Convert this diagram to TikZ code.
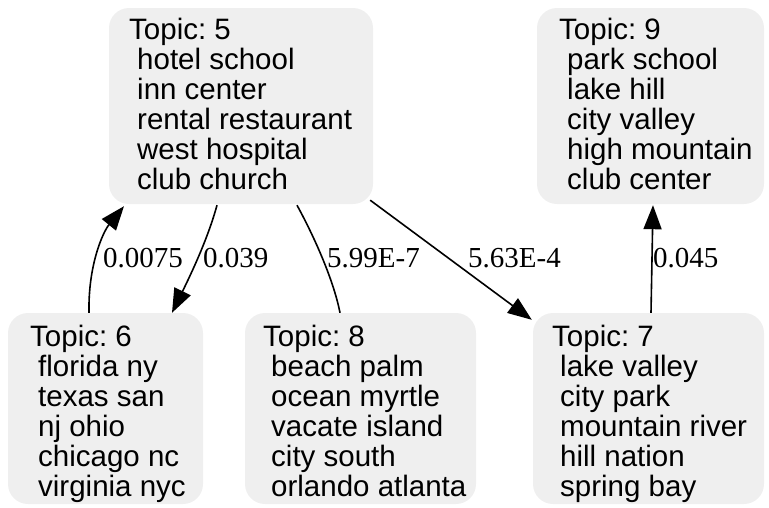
\documentclass[tikz,border=0pt]{standalone}
\usepackage{fontspec}
\setmainfont{Liberation Serif}
\newfontfamily\boxfont{Liberation Sans}
\usetikzlibrary{arrows.meta,calc}
\definecolor{boxgray}{RGB}{239,239,239}
\tikzset{
  topicbox/.style={draw=none, fill=boxgray, rounded corners=20pt, rectangle, inner sep=0pt},
  topictext/.style={anchor=north west, inner sep=0pt, align=left, font=\boxfont\fontsize{29.5}{30}\selectfont\frenchspacing},
  elabel/.style={anchor=west, inner sep=0pt, font=\fontsize{29}{30}\selectfont},
  conn/.style={line width=1.6pt, black},
  arr/.style={conn, -{Triangle[length=24pt,width=18pt]}}
}
\newcommand{\ind}{\hspace*{8pt}}
\begin{document}
\begin{tikzpicture}[x=1pt,y=-1pt]
\useasboundingbox (0,0) rectangle (769,507);
% boxes
\node[topicbox, minimum width=264pt, minimum height=196pt] (t5) at (241,106) {};
\node[topicbox, minimum width=227pt, minimum height=196pt] (t9) at (650.5,106) {};
\node[topicbox, minimum width=195pt, minimum height=191pt] (t6) at (105.5,408.5) {};
\node[topicbox, minimum width=231pt, minimum height=191pt] (t8) at (360.5,408.5) {};
\node[topicbox, minimum width=231pt, minimum height=191pt] (t7) at (648.5,408.5) {};
% texts
\node[topictext] (x5) at (129,18) {Topic: 5\\\ind hotel school\\\ind inn center\\\ind rental restaurant\\\ind west hospital\\\ind club church};
\node[topictext] (x9) at (559,18) {Topic: 9\\\ind park school\\\ind lake hill\\\ind city valley\\\ind high mountain\\\ind club center};
\node[topictext] (x6) at (30,325) {Topic: 6\\\ind florida ny\\\ind texas san\\\ind nj ohio\\\ind chicago nc\\\ind virginia nyc};
\node[topictext] (x8) at (263,325) {Topic: 8\\\ind beach palm\\\ind ocean myrtle\\\ind vacate island\\\ind city south\\\ind orlando atlanta};
\node[topictext] (x7) at (552,325) {Topic: 7\\\ind lake valley\\\ind city park\\\ind mountain river\\\ind hill nation\\\ind spring bay};
% connectors
\draw[arr] ($(t6.north)+(-16.5,0)$) .. controls (88,265) and (103,232) .. ($(t5.south)+(-117,2)$);
\draw[arr] ($(t5.south)+(-24,1)$) .. controls (208,238) and (192,272) .. ($(t6.north)+(66.5,0)$);
\draw[conn] ($(t5.south)+(56,1)$) .. controls (316,240) and (334,282) .. ($(t8.north)+(-20.5,0)$);
\draw[arr] ($(t5.south east)+(-3,-4)$) -- ($(t7.north west)+(-1,7)$);
\draw[arr] ($(t7.north)+(2.5,0)$) -- ($(t9.south)+(2.5,1)$);
% labels
\node[elabel] (l1) at (103,258) {0.0075};
\node[elabel] (l2) at (203,258) {0.039};
\node[elabel] (l3) at (327,258) {5.99E-7};
\node[elabel] (l4) at (468,258) {5.63E-4};
\node[elabel] (l5) at (653,258) {0.045};
\end{tikzpicture}
\end{document}
